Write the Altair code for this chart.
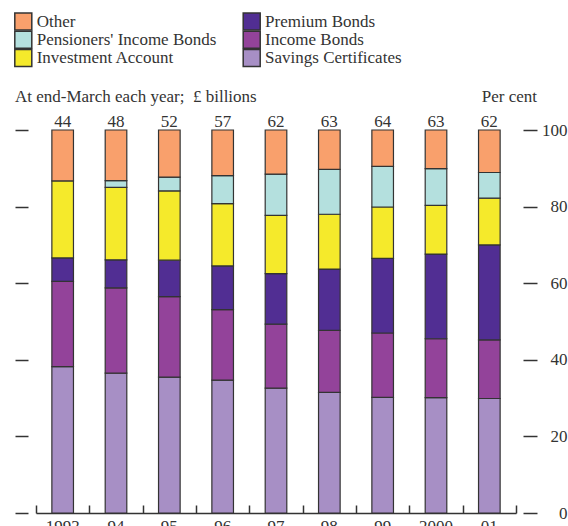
import altair as alt
import pandas as pd

years = ["1993", "94", "95", "96", "97", "98", "99", "2000", "01"]
totals = [44, 48, 52, 57, 62, 63, 64, 63, 62]
savings = [38.2, 36.5, 35.5, 34.7, 32.6, 31.5, 30.2, 30.1, 29.9]
income = [22.3, 22.3, 21.0, 18.4, 16.7, 16.2, 16.8, 15.4, 15.3]
premium = [6.1, 7.3, 9.5, 11.4, 13.2, 16.0, 19.5, 22.1, 24.8]
investment = [20.1, 18.9, 18.1, 16.3, 15.2, 14.3, 13.4, 12.7, 12.2]
pensioners = [0.0, 1.8, 3.6, 7.3, 10.8, 11.7, 10.6, 9.6, 6.7]
other = [13.3, 13.2, 12.3, 11.9, 11.5, 10.3, 9.5, 10.1, 11.1]

series_names = ["Savings Certificates", "Income Bonds", "Premium Bonds",
                "Investment Account", "Pensioners' Income Bonds", "Other"]
series_values = [savings, income, premium, investment, pensioners, other]
series_colors = ["#A78FC5", "#93439A", "#512E93", "#F5EA2B", "#B4E0DE", "#F9A06C"]

# legend layout: two columns of three entries
legend_order = ["Other", "Pensioners' Income Bonds", "Investment Account",
                "Premium Bonds", "Income Bonds", "Savings Certificates"]
legend_col = [0, 0, 0, 1, 1, 1]
legend_row = [0, 1, 2, 0, 1, 2]
color_map = dict(zip(series_names, series_colors))

rows = []
for si, (name, vals) in enumerate(zip(series_names, series_values)):
    for y, v in zip(years, vals):
        if v > 0:
            rows.append({"Year": y, "Series": name, "Value": v, "Stack": si})
df = pd.DataFrame(rows)
tot_df = pd.DataFrame({"Year": years, "Total": totals})
leg_df = pd.DataFrame({"Series": legend_order, "col": legend_col, "row": legend_row})

FONT = "Liberation Serif"
TXT = "#333333"

color_scale = alt.Scale(domain=legend_order, range=[color_map[n] for n in legend_order])
xscale = alt.Scale(domain=years, paddingInner=0, paddingOuter=0)
yscale = alt.Scale(domain=[0, 100], nice=False)

bars = alt.Chart(df).mark_bar(
    width=alt.RelativeBandSize(0.405), stroke="#333333", strokeWidth=1.2
).encode(
    x=alt.X("Year:N", sort=years, scale=xscale,
            axis=alt.Axis(orient="bottom", title=None, ticks=False, domain=False,
                          labelAngle=0, labelPadding=5, labelFont=FONT,
                          labelFontSize=17, labelColor=TXT)),
    y=alt.Y("Value:Q", stack="zero", scale=yscale,
            axis=alt.Axis(orient="right", title=None, values=[0, 20, 40, 60, 80, 100],
                          domain=False, grid=False, offset=7, tickSize=14,
                          tickWidth=1.5, tickColor="#333333", labelAlign="right",
                          labelPadding=30, labelFont=FONT, labelFontSize=17,
                          labelColor=TXT)),
    color=alt.Color("Series:N", scale=color_scale, legend=None),
    order=alt.Order("Stack:Q", sort="ascending"),
)

tot_text = alt.Chart(tot_df).mark_text(
    font=FONT, fontSize=17, color=TXT, baseline="alphabetic", dy=-3.5
).encode(
    x=alt.X("Year:N", sort=years, scale=xscale,
            axis=alt.Axis(orient="top", title=None, labels=False, offset=-383,
                          domain=True, domainColor="#333333", domainWidth=1.5,
                          ticks=True, tickBand="extent", tickSize=8,
                          tickWidth=1.5, tickColor="#333333")),
    y=alt.Y(datum=100, scale=yscale,
            axis=alt.Axis(orient="left", title=None, labels=False, domain=False,
                          grid=False, values=[0, 20, 40, 60, 80, 100], offset=8,
                          tickSize=13, tickWidth=1.5, tickColor="#333333")),
    text=alt.Text("Total:Q"),
)

# legend built from its own small table, placed above the plot
leg_x = alt.Scale(domain=[0, 1], range=[-12.7, 215.7])
leg_y = alt.Scale(domain=[0, 2], range=[-108.5, -71.9])
leg_sq = alt.Chart(leg_df).mark_square(
    size=289, stroke="#333333", strokeWidth=1.5, opacity=1
).encode(
    x=alt.X("col:Q", scale=leg_x, axis=None),
    y=alt.Y("row:Q", scale=leg_y, axis=None),
    fill=alt.Color("Series:N", scale=color_scale, legend=None),
)
leg_txt = alt.Chart(leg_df).mark_text(
    font=FONT, fontSize=17, color=TXT, align="left", baseline="middle", dx=13.4, dy=0
).encode(
    x=alt.X("col:Q", scale=leg_x, axis=None),
    y=alt.Y("row:Q", scale=leg_y, axis=None),
    text="Series:N",
)

head_df = pd.DataFrame({"t": ["At end-March each year;\u00a0\u00a0£ billions"]})
head_left = alt.Chart(head_df).mark_text(
    font=FONT, fontSize=17, color=TXT, align="left", baseline="alphabetic"
).encode(x=alt.value(-21), y=alt.value(-28), text="t:N")

head_df2 = pd.DataFrame({"t": ["Per cent"]})
head_right = alt.Chart(head_df2).mark_text(
    font=FONT, fontSize=17, color=TXT, align="right", baseline="alphabetic"
).encode(x=alt.value(501), y=alt.value(-28), text="t:N")

chart = alt.layer(bars, tot_text, leg_sq, leg_txt, head_left, head_right).resolve_scale(
    x="independent", y="independent"
).resolve_axis(
    x="independent", y="independent"
).properties(
    width=480, height=383,
    autosize=alt.AutoSizeParams(type="none"),
    padding={"left": 36, "top": 130, "right": 52, "bottom": 13},
    background="white",
).configure_view(stroke=None)

chart.save("out.html", embed_options={"renderer": "svg", "actions": False})
